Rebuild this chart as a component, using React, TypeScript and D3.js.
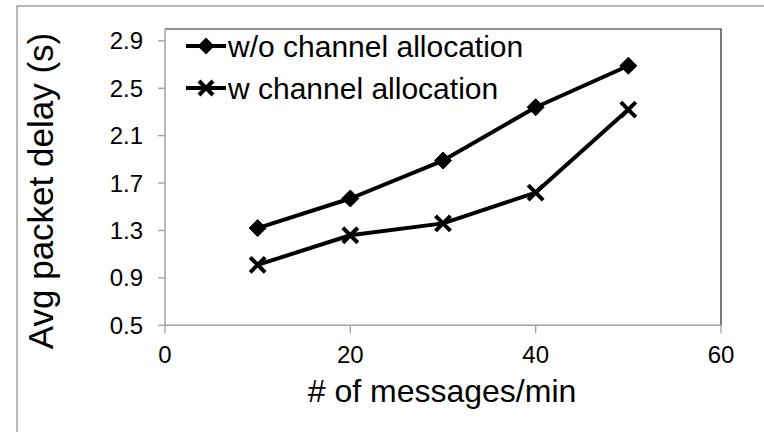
import React from "react";
import * as d3 from "d3";

const messagesPerMin = [10, 20, 30, 40, 50];
const delayWithoutAlloc = [1.32, 1.57, 1.89, 2.34, 2.69];
const delayWithAlloc = [1.01, 1.26, 1.36, 1.62, 2.32];
const seriesNames = ["w/o channel allocation", "w channel allocation"];
const xTicks = [0, 20, 40, 60];
const yTicks = [0.5, 0.9, 1.3, 1.7, 2.1, 2.5, 2.9];

const W = 764;
const H = 432;
const FONT = "'Liberation Sans', Arial, sans-serif";

export default function App() {
  const plot = { left: 165, right: 721, top: 29, bottom: 325.3 };
  const x = d3.scaleLinear().domain([0, 60]).range([plot.left, plot.right]);
  const y = d3.scaleLinear().domain([0.5, 3.0]).range([plot.bottom, plot.top]);

  const line = d3
    .line<[number, number]>()
    .x((d) => x(d[0]))
    .y((d) => y(d[1]));

  const s1 = messagesPerMin.map((m, i) => [m, delayWithoutAlloc[i]] as [number, number]);
  const s2 = messagesPerMin.map((m, i) => [m, delayWithAlloc[i]] as [number, number]);

  const diamond = (cx: number, cy: number, r = 8.5) =>
    `M${cx},${cy - r}L${cx + r},${cy}L${cx},${cy + r}L${cx - r},${cy}Z`;
  const cross = (cx: number, cy: number, r = 7.5) =>
    `M${cx - r},${cy - r}L${cx + r},${cy + r}M${cx - r},${cy + r}L${cx + r},${cy - r}`;

  const axisGray = "#a0a0a0";

  return (
    <div style={{ position: "fixed", left: 0, top: 0 }}>
      <svg width={W} height={H} style={{ display: "block", background: "#fff" }}>
        {/* outer frame */}
        <rect x={17} y={6} width={W} height={H} fill="none" stroke="#8a8a8a" strokeWidth={1.2} />

        {/* plot frame: top and right */}
        <path
          d={`M${plot.left},${plot.top}H${plot.right}V${plot.bottom}`}
          fill="none"
          stroke="#222"
          strokeWidth={1.2}
        />
        {/* y axis */}
        <line x1={plot.left} x2={plot.left} y1={plot.top} y2={plot.bottom} stroke={axisGray} strokeWidth={1.5} />
        {yTicks.map((t) => (
          <g key={`y${t}`}>
            <line x1={plot.left - 7} x2={plot.left} y1={y(t)} y2={y(t)} stroke={axisGray} strokeWidth={1.3} />
            <text
              x={143}
              y={y(t)}
              textAnchor="end"
              dominantBaseline="central"
              fontFamily={FONT}
              fontSize={24}
              fill="#000"
            >
              {t.toFixed(1)}
            </text>
          </g>
        ))}
        {/* x axis */}
        <line x1={plot.left} x2={plot.right} y1={plot.bottom} y2={plot.bottom} stroke={axisGray} strokeWidth={1.5} />
        {xTicks.map((t) => (
          <g key={`x${t}`}>
            <line x1={x(t)} x2={x(t)} y1={plot.bottom} y2={plot.bottom + 8} stroke={axisGray} strokeWidth={1.3} />
            <text x={x(t)} y={363} textAnchor="middle" fontFamily={FONT} fontSize={24} fill="#000">
              {t}
            </text>
          </g>
        ))}

        {/* axis titles */}
        <text x={442} y={402} textAnchor="middle" fontFamily={FONT} fontSize={32} fill="#000">
          # of messages/min
        </text>
        <text
          transform={`translate(53,191) rotate(-90)`}
          textAnchor="middle"
          fontFamily={FONT}
          fontSize={35}
          fill="#000"
        >
          Avg packet delay (s)
        </text>

        {/* series */}
        <path d={line(s1) || ""} fill="none" stroke="#000" strokeWidth={4} strokeLinejoin="round" />
        <path d={line(s2) || ""} fill="none" stroke="#000" strokeWidth={4} strokeLinejoin="round" />
        {s1.map((d, i) => (
          <path key={`d${i}`} d={diamond(x(d[0]), y(d[1]))} fill="#000" stroke="#000" strokeWidth={1} />
        ))}
        {s2.map((d, i) => (
          <path key={`c${i}`} d={cross(x(d[0]), y(d[1]))} fill="none" stroke="#000" strokeWidth={4} />
        ))}

        {/* legend */}
        <g>
          <line x1={186} x2={226} y1={46} y2={46} stroke="#000" strokeWidth={4} />
          <path d={diamond(206, 46)} fill="#000" />
          <text x={228} y={46} dominantBaseline="central" fontFamily={FONT} fontSize={30} fill="#000">
            {seriesNames[0]}
          </text>
          <line x1={186} x2={226} y1={88} y2={88} stroke="#000" strokeWidth={4} />
          <path d={cross(206, 88, 7)} fill="none" stroke="#000" strokeWidth={4} />
          <text x={228} y={88} dominantBaseline="central" fontFamily={FONT} fontSize={30} fill="#000">
            {seriesNames[1]}
          </text>
        </g>
      </svg>
    </div>
  );
}
